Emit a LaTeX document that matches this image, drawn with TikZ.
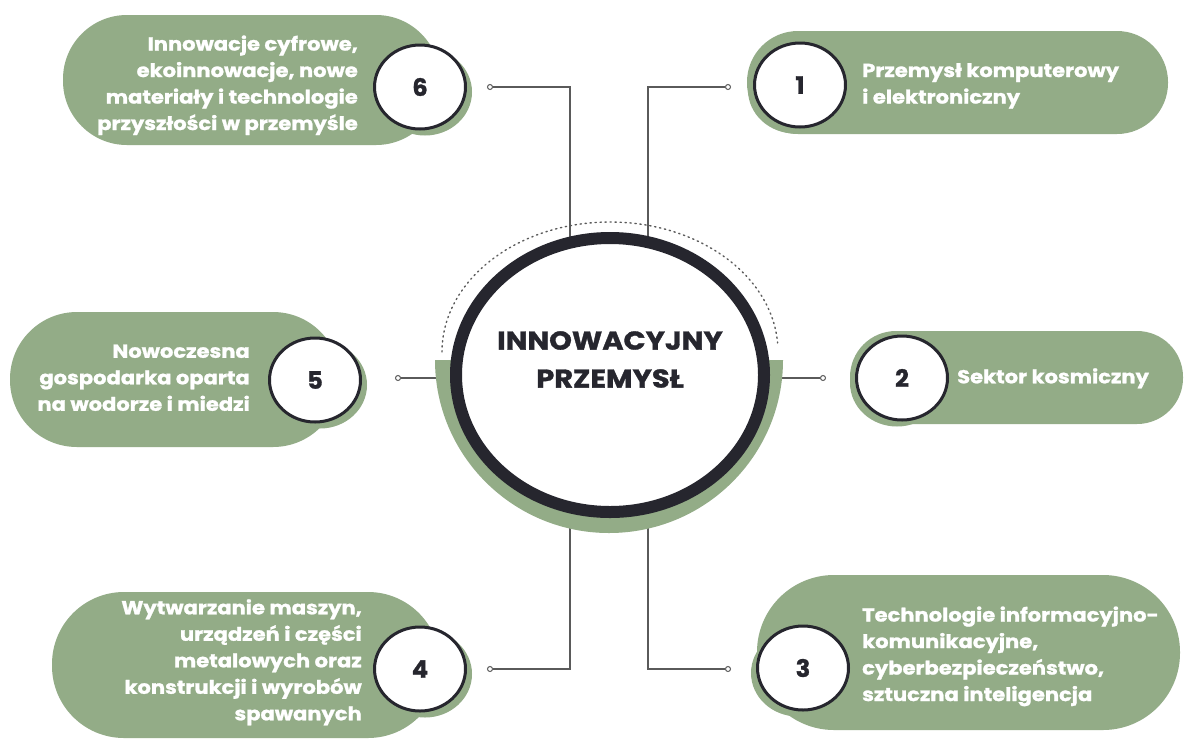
\documentclass[tikz,border=0pt]{standalone}
\usepackage{fontspec}
\setmainfont{Poppins}[BoldFeatures={FakeBold=1.2}]
\usepackage{graphicx}
\usetikzlibrary{shapes.geometric}
\definecolor{sage}{HTML}{93AC87}
\definecolor{ink}{HTML}{26262E}
\definecolor{wirec}{HTML}{5A5A5A}
\newcommand\sx{1.12}
\newcommand\RL[1]{\scalebox{\sx}[1]{\begin{tabular}{@{}r@{}}#1\end{tabular}}}
\newcommand\LL[1]{\scalebox{\sx}[1]{\begin{tabular}{@{}l@{}}#1\end{tabular}}}
\newcommand\CL[1]{\scalebox{\sx}[1]{\begin{tabular}{@{}c@{}}#1\end{tabular}}}
\begin{document}
\begin{tikzpicture}[x=1pt,y=-1pt,
  pill/.style={fill=sage},
  numc/.style={ellipse, draw=ink, line width=3, fill=white, minimum width=91, minimum height=84, inner sep=0, text=ink, font=\bfseries\fontsize{24}{24}\selectfont},
  shade/.style={ellipse, fill=sage, minimum width=94, minimum height=87, inner sep=0},
  dotn/.style={circle, draw=wirec, fill=white, line width=1, minimum size=5, inner sep=0},
  wire/.style={draw=wirec, line width=1.4},
  ptext/.style={text=white, inner sep=0, font=\bfseries\fontsize{18.8}{26.5}\selectfont},
  title/.style={text=ink, inner sep=0, font=\bfseries\fontsize{25.8}{38}\selectfont}
]
\useasboundingbox (0,0) rectangle (1186,740);
\fill[white] (0,0) rectangle (1186,740);

% pills
\fill[pill, rounded corners=64] (63,15) rectangle (440,145);
\fill[pill, rounded corners=51] (747,31) rectangle (1168,134);
\fill[pill, rounded corners=67] (10,312) rectangle (340,447);
\fill[pill, rounded corners=46] (850,331) rectangle (1183,424);
\fill[pill, rounded corners=72] (52,592) rectangle (440,738);
\fill[pill, rounded corners=77] (757,575) rectangle (1180,730);

% shadows of number circles
\node[shade] (s6) at (425,92) {};
\node[shade] (s1) at (795,90) {};
\node[shade] (s5) at (320,385) {};
\node[shade] (s2) at (897,383) {};
\node[shade] (s4) at (425,674) {};
\node[shade] (s3) at (798,673) {};

% connector ends
\coordinate (e6) at (570,260);
\coordinate (e1) at (648,260);
\coordinate (e4) at (570,500);
\coordinate (e3) at (648,500);
\coordinate (e5) at (445,378);
\coordinate (e2) at (775,378);

\node[dotn] (d6) at (490,87) {};
\node[dotn] (d1) at (728,87) {};
\node[dotn] (d5) at (398,378) {};
\node[dotn] (d2) at (823,378) {};
\node[dotn] (d4) at (490,669) {};
\node[dotn] (d3) at (728,669) {};

\draw[wire] (d6) -| (e6);
\draw[wire] (d1) -| (e1);
\draw[wire] (d4) -| (e4);
\draw[wire] (d3) -| (e3);
\draw[wire] (d5) -- (e5);
\draw[wire] (d2) -- (e2);

% green half ring
\fill[sage] (435,360) arc[start angle=180, end angle=0, x radius=174, y radius=173] -- cycle;
% dotted arc
\draw[wirec, line width=1.4, dash pattern=on 1.3pt off 3.7pt, line cap=round]
  (442,352) arc[start angle=180, end angle=356, x radius=168, y radius=130];
% hub
\node[ellipse, draw=ink, line width=12, fill=white, minimum width=308, minimum height=274, inner sep=0] (hub) at (610,375) {};
\node[title] (ttl) at (610,361) {\CL{INNOWACYJNY\\PRZEMYSŁ}};

% number circles
\node[numc] (n6) at (420,87) {6};
\node[numc] (n1) at (800,85) {1};
\node[numc] (n5) at (315,380) {5};
\node[numc] (n2) at (902,378) {2};
\node[numc] (n4) at (420,669) {4};
\node[numc] (n3) at (803,668) {3};

% texts
\node[ptext, anchor=east] (t6) at (358,85) {\RL{Innowacje cyfrowe,\\ekoinnowacje, nowe\\materiały i technologie\\przyszłości w przemyśle}};
\node[ptext, anchor=west] (t1) at (862,85) {\LL{Przemysł komputerowy\\i elektroniczny}};
\node[ptext, anchor=east] (t5) at (250,379) {\RL{Nowoczesna\\gospodarka oparta\\na wodorze i miedzi}};
\node[ptext, anchor=west] (t2) at (957,378) {\LL{Sektor kosmiczny}};
\node[ptext, anchor=east] (t4) at (362,662) {\RL{Wytwarzanie maszyn,\\urządzeń i części\\metalowych oraz\\konstrukcji i wyrobów\\spawanych}};
\node[ptext, anchor=west] (t3) at (862,656) {\LL{Technologie informacyjno-\\komunikacyjne,\\cyberbezpieczeństwo,\\sztuczna inteligencja}};
\end{tikzpicture}
\end{document}
